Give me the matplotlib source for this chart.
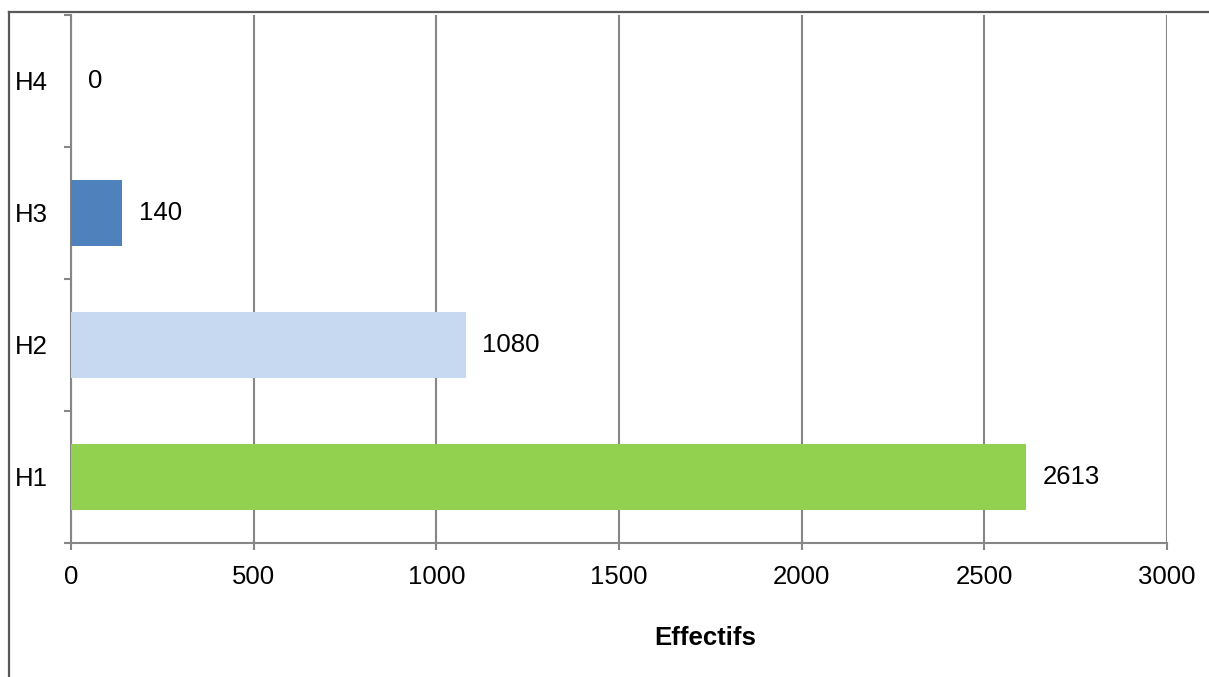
import matplotlib
matplotlib.use("Agg")
import matplotlib.pyplot as plt
from matplotlib.lines import Line2D

plt.rcParams['font.family'] = ['Liberation Sans', 'DejaVu Sans']

categories = ["H1", "H2", "H3", "H4"]
values = [2613, 1080, 140, 0]
bar_colors = ["#92D050", "#C6D9F1", "#4F81BD", "#4F81BD"]
x_ticks = [0, 500, 1000, 1500, 2000, 2500, 3000]
x_label = "Effectifs"

W, H = 1209, 677
fig = plt.figure(figsize=(W / 100, H / 100), dpi=100)
fig.patch.set_facecolor("white")

left, right, top, bottom = 71, 1167, 15, 543
ax = fig.add_axes([left / W, 1 - bottom / H, (right - left) / W, (bottom - top) / H])

grid_col = "#868686"
ypos = list(range(len(categories)))
ax.barh(ypos, values, height=0.5, color=bar_colors, zorder=3)

ax.set_xlim(0, 3000)
ax.set_ylim(-0.5, len(categories) - 0.5)

ax.set_xticks(x_ticks)
ax.set_xticklabels([str(t) for t in x_ticks], fontsize=18.5)
ax.tick_params(axis="x", direction="out", length=5, width=1.5, color=grid_col, pad=11)

# category boundaries as major ticks, labels at the category centres
ax.set_yticks([i - 0.5 for i in range(len(categories) + 1)])
ax.set_yticklabels([])
ax.set_yticks(ypos, minor=True)
ax.set_yticklabels(categories, minor=True, fontsize=18.5)
ax.tick_params(axis="y", which="major", direction="out", length=5, width=1.5, color=grid_col)
ax.tick_params(axis="y", which="minor", length=0, pad=17)

ax.grid(axis="x", color=grid_col, linewidth=1.5, zorder=0)
for side in ["top", "right"]:
    ax.spines[side].set_visible(False)
for side in ["left", "bottom"]:
    ax.spines[side].set_color(grid_col)
    ax.spines[side].set_linewidth(1.5)

for y, v in zip(ypos, values):
    ax.annotate(str(v), xy=(v, y), xytext=(12, 0), textcoords="offset points",
                va="center", ha="left", fontsize=18.5, zorder=4)

fig.text(705 / W, 1 - 638 / H, x_label, ha="center", va="center",
         fontsize=18.5, fontweight="bold")

# outer frame: top and left edges
frame_col = "#595959"
fig.add_artist(Line2D([9 / W, 1.0], [1 - 12 / H, 1 - 12 / H], color=frame_col,
                      linewidth=1.6, transform=fig.transFigure))
fig.add_artist(Line2D([9 / W, 9 / W], [1 - 12 / H, 0.0], color=frame_col,
                      linewidth=1.6, transform=fig.transFigure))

fig.savefig("out.png", dpi=100, facecolor="white")
